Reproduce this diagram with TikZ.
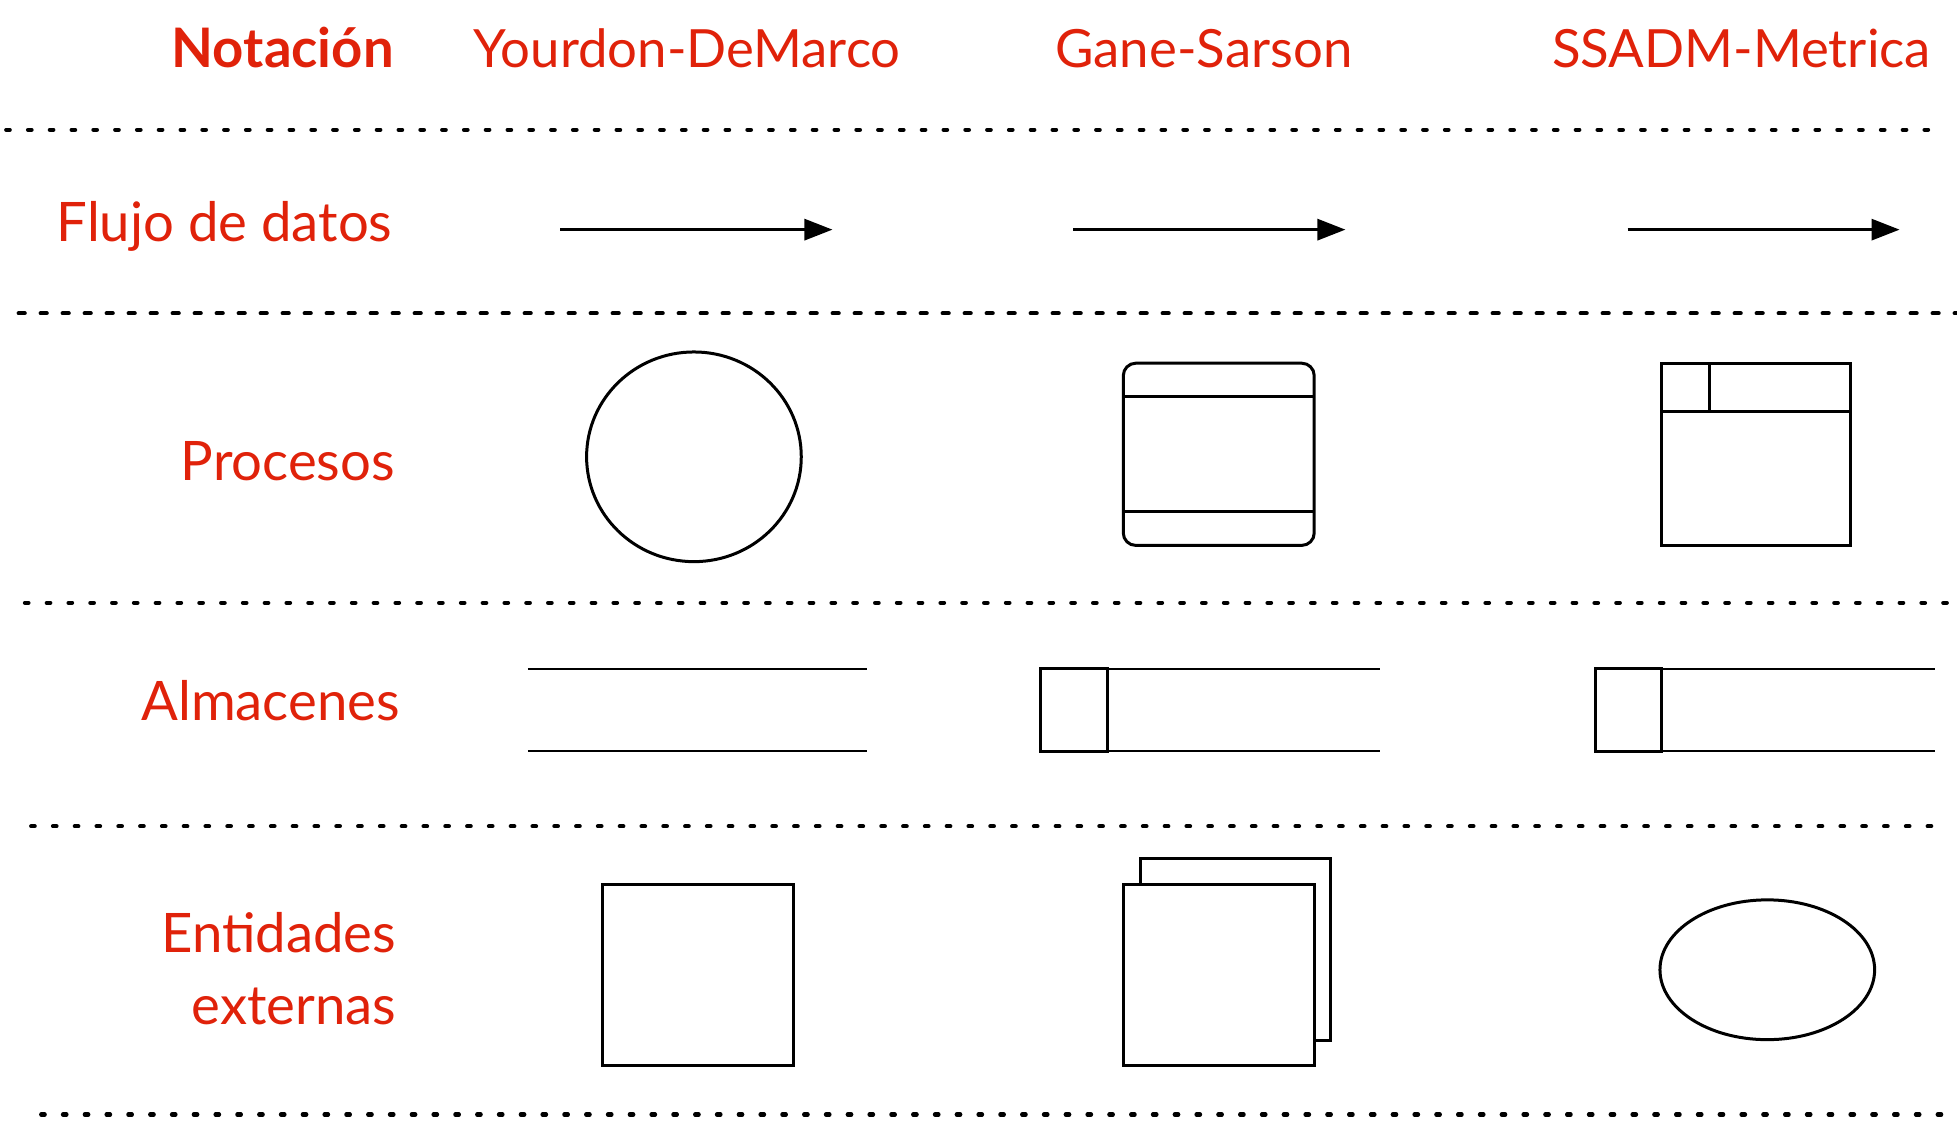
\documentclass[tikz,border=0pt]{standalone}
\usepackage{fontspec}
\setmainfont{Lato}
\usetikzlibrary{arrows.meta,positioning,shapes.geometric}
\definecolor{notared}{RGB}{224,34,10}
\tikzset{
    sepDot/.style={line width=0.042cm, line cap=round, dash pattern=on 0.035cm off 0.183cm},
    sepDash/.style={line width=0.042cm, line cap=round, dash pattern=on 0.06cm off 0.16cm},
    flujo/.style={line width=0.03cm, -{Triangle[length=0.28cm,width=0.21cm]}},
    figura/.style={line width=0.03cm},
    almacen/.style={line width=0.022cm},
    rotulo/.style={text=notared, inner sep=0pt, font=\fontsize{15.5}{18}\selectfont},
    cabecera/.style={rotulo, anchor=base west, font=\fontsize{15}{18}\selectfont},
}

\begin{document}
\begin{tikzpicture}[x=0.01248cm, y=-0.01248cm]
    \useasboundingbox (0,0) rectangle (1568,899);
    % cabecera
    \node[rotulo, anchor=base east, font=\fontsize{15.5}{18}\selectfont\bfseries] (nota) at (316,53.7) {Notación};
    \node[cabecera] (yd) at (379,53.7) {Yourdon-DeMarco};
    \node[cabecera] (gs) at (845,53.7) {Gane-Sarson};
    \node[cabecera] (sm) at (1243,53.7) {SSADM-Metrica};
    % separadores
    \draw[sepDot] (5,104) -- (1555,104);
    \draw[sepDash] (15,251) -- (1568,251);
    \draw[sepDot] (20,483) -- (1568,483);
    \draw[sepDot] (25,662) -- (1558,662);
    \draw[sepDot] (33,893) -- (1560,893);
    % flujo de datos
    \node[rotulo, anchor=base east] (flujo) at (315,193.6) {Flujo de datos};
    \coordinate (f1a) at (449,184);
    \coordinate (f1b) at (667,184);
    \coordinate (f2a) at (860,184);
    \coordinate (f2b) at (1078,184);
    \coordinate (f3a) at (1304,184);
    \coordinate (f3b) at (1522,184);
    \draw[flujo] (f1a) -- (f1b);
    \draw[flujo] (f2a) -- (f2b);
    \draw[flujo] (f3a) -- (f3b);
    % procesos
    \node[rotulo, anchor=base east] (proc) at (317,385) {Procesos};
    \draw[figura] (556,366) ellipse [x radius=86, y radius=84];
    \draw[figura, rounded corners=0.125cm] (900,291) rectangle (1053,437);
    \draw[figura] (900,318) -- (1053,318);
    \draw[figura] (900,410) -- (1053,410);
    \draw[figura] (1331,291) rectangle (1483,437);
    \draw[figura] (1331,330) -- (1483,330);
    \draw[figura] (1370,291) -- (1370,330);
    % almacenes
    \node[rotulo, anchor=base east] (alm) at (321,577) {Almacenes};
    \draw[almacen] (423,536) -- (695,536);
    \draw[almacen] (423,602) -- (695,602);
    \draw[almacen] (887,536) -- (1106,536);
    \draw[almacen] (887,602) -- (1106,602);
    \draw[figura] (834,536) rectangle (887,602);
    \draw[almacen] (1331,536) -- (1550,536);
    \draw[almacen] (1331,602) -- (1550,602);
    \draw[figura] (1278,536) rectangle (1331,602);
    % entidades externas
    \node[rotulo, anchor=base east] (ent1) at (318,763) {Entidades};
    \node[rotulo, anchor=base east] (ent2) at (318,821) {externas};
    \draw[figura] (483,709) rectangle (636,854);
    \draw[figura] (914,688) rectangle (1066,834);
    \draw[figura, fill=white] (900,709) rectangle (1053,854);
    \draw[figura] (1416,777) ellipse [x radius=86, y radius=56];
\end{tikzpicture}
\end{document}
